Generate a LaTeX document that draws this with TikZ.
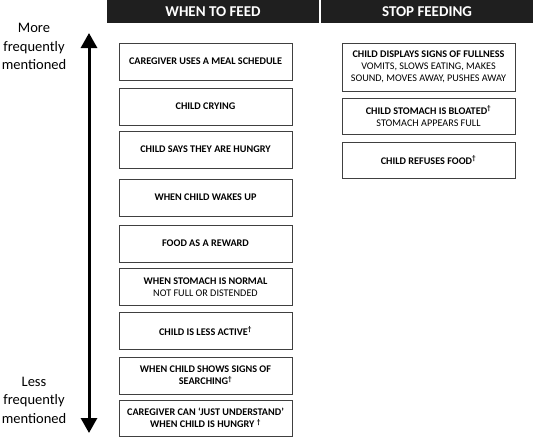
\documentclass[tikz,border=0pt]{standalone}
\usepackage{fontspec}
\setmainfont{Carlito}
\usetikzlibrary{arrows.meta}
\newcommand{\dg}{\textsuperscript{†}}

\begin{document}
\begin{tikzpicture}[x=1pt,y=-1pt,
  box/.style={rectangle,draw=black!75,line width=0.9pt,minimum width=173pt,minimum height=37pt,align=center,inner sep=2pt,font=\fontsize{10.2}{12}\selectfont},
  hdr/.style={rectangle,fill=black!88,text=white,minimum width=212pt,minimum height=23pt,inner sep=0pt,font=\fontsize{15}{17}\selectfont\bfseries},
  side/.style={align=center,font=\fontsize{14.5}{18.5}\selectfont}]
\useasboundingbox (0,0) rectangle (533,437);

\coordinate (P) at (213,11.5);
\coordinate (Q) at (427,11.5);
\coordinate (A) at (205.5,61.5);
\coordinate (B) at (205.5,106.5);
\coordinate (C) at (205.5,149.5);
\coordinate (D) at (205.5,197.5);
\coordinate (E) at (205.5,243.5);
\coordinate (F) at (205.5,287);
\coordinate (G) at (205.5,331);
\coordinate (H) at (205.5,375.5);
\coordinate (I) at (205.5,418);
\coordinate (J) at (428.5,67);
\coordinate (K) at (428.5,116);
\coordinate (L) at (428.5,160);
\coordinate (M) at (34,46.5);
\coordinate (N) at (34,400);
\coordinate (T) at (89,33);
\coordinate (U) at (89,433);

\node[hdr] (P1) at (P) {WHEN TO FEED};
\node[hdr] (Q1) at (Q) {STOP FEEDING};

\node[box] (A1) at (A) {\textbf{CAREGIVER USES A MEAL SCHEDULE}};
\node[box] (B1) at (B) {\textbf{CHILD CRYING}};
\node[box] (C1) at (C) {\textbf{CHILD SAYS THEY ARE HUNGRY}};
\node[box] (D1) at (D) {\textbf{WHEN CHILD WAKES UP}};
\node[box] (E1) at (E) {\textbf{FOOD AS A REWARD}};
\node[box] (F1) at (F) {\textbf{WHEN STOMACH IS NORMAL}\\NOT FULL OR DISTENDED};
\node[box] (G1) at (G) {\textbf{CHILD IS LESS ACTIVE\dg}};
\node[box] (H1) at (H) {\textbf{WHEN CHILD SHOWS SIGNS OF}\\\textbf{SEARCHING\dg}};
\node[box,minimum height=36pt] (I1) at (I) {\textbf{CAREGIVER CAN ‘JUST UNDERSTAND’}\\\textbf{WHEN CHILD IS HUNGRY \dg}};

\node[box,minimum height=48pt] (J1) at (J) {\textbf{CHILD DISPLAYS SIGNS OF FULLNESS}\\VOMITS, SLOWS EATING, MAKES\\SOUND, MOVES AWAY, PUSHES AWAY};
\node[box,minimum height=36pt] (K1) at (K) {\textbf{CHILD STOMACH IS BLOATED\dg}\\STOMACH APPEARS FULL};
\node[box,minimum height=36pt] (L1) at (L) {\textbf{CHILD REFUSES FOOD\dg}};

\node[side] (M1) at (M) {More\\frequently\\mentioned};
\node[side] (N1) at (N) {Less\\frequently\\mentioned};
\draw[line width=3pt,{Triangle[width=16pt,length=15pt]}-{Triangle[width=16pt,length=15pt]}] (T) -- (U);

\end{tikzpicture}
\end{document}
